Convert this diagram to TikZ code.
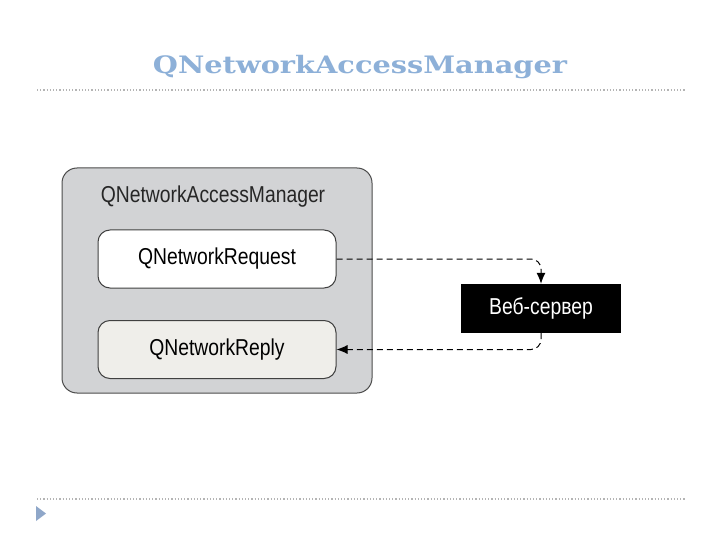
\documentclass[tikz,border=0pt]{standalone}
\usepackage{fontspec}
\setmainfont{Liberation Sans}[FakeStretch=0.84]
\newfontfamily\titlefont{DejaVu Serif}[FakeStretch=1.2]
\usetikzlibrary{arrows.meta}
\definecolor{titleblue}{HTML}{8DB0D8}
\definecolor{dotgray}{HTML}{B4B4B4}
\definecolor{boxgray}{HTML}{D2D3D5}
\definecolor{replyfill}{HTML}{EFEEEA}
\definecolor{markblue}{HTML}{8FA7C9}
\begin{document}
\begin{tikzpicture}[x=1pt,y=-1pt,
  inner/.style={draw=black!75,line width=1pt,rounded corners=12pt,
    minimum width=238pt,minimum height=58pt,font=\fontsize{23}{26}\selectfont},
  link/.style={dashed,dash pattern=on 6pt off 4pt,line width=1pt,
    rounded corners=10pt,-{Latex[length=11pt,width=9pt]}}]
\fill[white] (0,0) rectangle (720,540);
\useasboundingbox (0,0) rectangle (720,540);
\node[text=titleblue,font=\titlefont\bfseries\fontsize{24}{28}\selectfont] (title) at (360,67) {QNetworkAccessManager};
\draw[dotgray,dotted,line width=1.2pt] (37,90) -- (685,90);
\draw[dotgray,dotted,line width=1.2pt] (37,499) -- (685,499);
\fill[markblue] (36,506) -- (46,513.5) -- (36,521) -- cycle;
\node[draw=black!70,fill=boxgray,line width=1pt,rounded corners=15pt,
  minimum width=310pt,minimum height=225pt] (mgr) at (217,280.5) {};
\node[font=\fontsize{23}{26}\selectfont,text=black!85] (mgrlabel) at (213,197) {QNetworkAccessManager};
\node[inner,fill=white] (req) at (217,259) {QNetworkRequest};
\node[inner,fill=replyfill] (rep) at (217,349.5) {QNetworkReply};
\node[fill=black,text=white,minimum width=160pt,minimum height=49pt,
  font=\fontsize{23}{26}\selectfont] (srv) at (541,308.5) {Веб-сервер};
\draw[link] (req.east) -| (srv.north);
\draw[link] (srv.south) |- (rep.east);
\end{tikzpicture}
\end{document}
